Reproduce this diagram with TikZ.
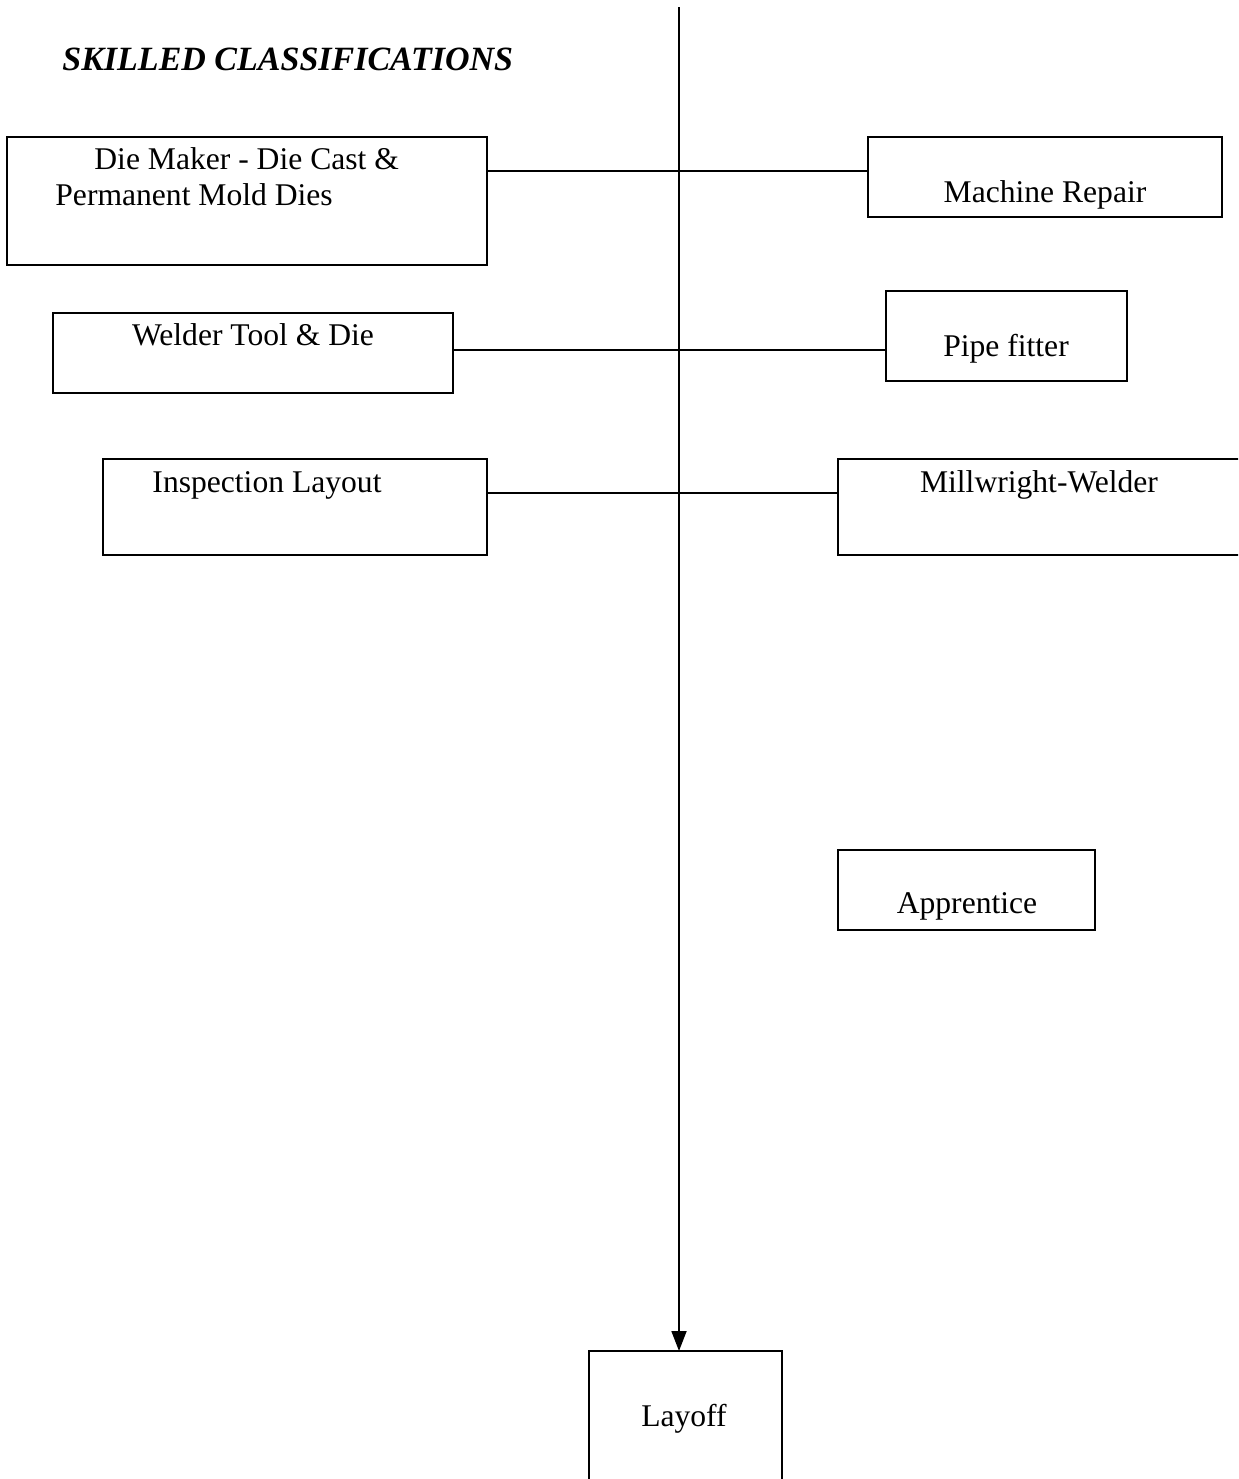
\documentclass[tikz,border=0pt]{standalone}
\usepackage{fontspec}
\setmainfont{Liberation Serif}
\usetikzlibrary{arrows.meta}
\begin{document}
\begin{tikzpicture}[x=0.5pt,y=-0.5pt,
  box/.style={draw,line width=0.9pt,inner sep=0pt,outer sep=0pt},
  lbl/.style={anchor=base,inner sep=0pt,font=\fontsize{15.8pt}{18pt}\selectfont},
  lblw/.style={anchor=base west,inner sep=0pt,font=\fontsize{15.8pt}{18pt}\selectfont},
  conn/.style={line width=0.9pt}]
\useasboundingbox (0,0) rectangle (1238,1479);
\clip (0,0) rectangle (1238,1479);
% title
\node[lblw,font=\fontsize{17pt}{20pt}\selectfont\bfseries\itshape] (title) at (62,70) {SKILLED CLASSIFICATIONS};
% boxes
\node[box,minimum width=240pt,minimum height=64pt] (dm) at (247,201) {};
\node[box,minimum width=177pt,minimum height=40pt] (mr) at (1045,177) {};
\node[box,minimum width=200pt,minimum height=40pt] (wt) at (253,353) {};
\node[box,minimum width=120.5pt,minimum height=45pt] (pf) at (1006.5,336) {};
\node[box,minimum width=192pt,minimum height=48pt] (il) at (295,507) {};
\node[box,minimum width=206pt,minimum height=48pt] (mw) at (1044,507) {};
\node[box,minimum width=128.5pt,minimum height=40pt] (ap) at (966.5,890) {};
\node[box,minimum width=96.5pt,minimum height=74.5pt] (lo) at (685.5,1425.5) {};
% texts
\node[lblw] (dm1) at (94,169) {Die Maker - Die Cast \&};
\node[lblw] (dm2) at (55,205) {Permanent Mold Dies};
\node[lbl] (mrt) at (1045,202) {Machine Repair};
\node[lbl] (wtt) at (253,345) {Welder Tool \& Die};
\node[lbl] (pft) at (1006,356) {Pipe fitter};
\node[lbl] (ilt) at (267,492) {Inspection Layout};
\node[lbl] (mwt) at (1039,492) {Millwright-Welder};
\node[lbl] (apt) at (967,913) {Apprentice};
\node[lbl] (lot) at (684,1426) {Layoff};
% connectors
\coordinate (r1) at (0,171);
\coordinate (r2) at (0,350);
\coordinate (r3) at (0,493);
\coordinate (top) at (679,7);
\draw[conn] (dm.east |- r1) -- (mr.west |- r1);
\draw[conn] (wt.east |- r2) -- (pf.west |- r2);
\draw[conn] (il.east |- r3) -- (mw.west |- r3);
\draw[conn,-{Triangle[length=10pt,width=7.5pt]}] (top) -- (top |- lo.north);
\end{tikzpicture}
\end{document}
